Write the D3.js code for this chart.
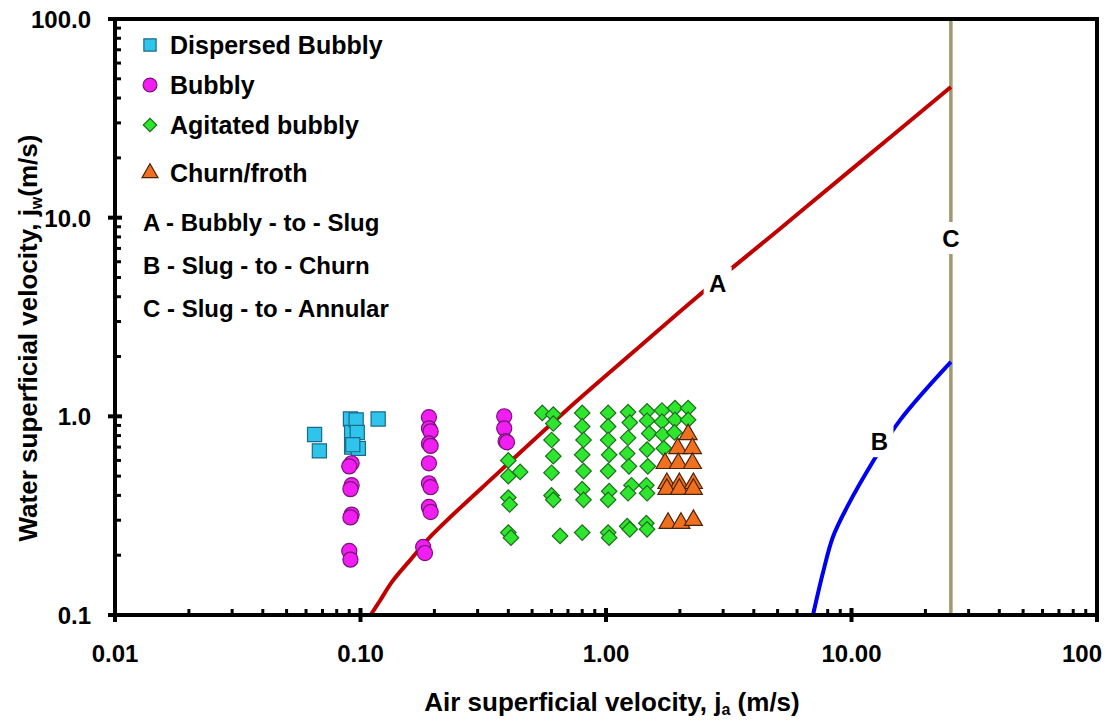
<!DOCTYPE html>
<html>
<head>
<meta charset="utf-8">
<script src="https://cdn.jsdelivr.net/npm/d3@7"></script>
<style>
  html, body { margin: 0; padding: 0; background: #fff; }
  svg { display: block; font-family: "Liberation Sans", Arial, sans-serif; font-weight: bold; }
</style>
</head>
<body>
<svg id="chart" width="1106" height="723"></svg>
<script>
// Flow-regime observations, [air velocity ja, water velocity jw] in m/s
const dispersedBubbly = [
  [0.065, 0.81], [0.068, 0.67], [0.091, 0.97], [0.092, 0.83], [0.092, 0.70],
  [0.096, 0.96], [0.097, 0.83], [0.098, 0.69], [0.118, 0.97], [0.093, 0.72]
];
const bubbly = [
  [0.092, 0.58], [0.090, 0.56], [0.092, 0.45], [0.091, 0.43], [0.092, 0.32],
  [0.091, 0.31], [0.090, 0.21], [0.091, 0.19],
  [0.19, 0.99], [0.19, 0.87], [0.193, 0.84], [0.19, 0.73], [0.193, 0.71],
  [0.19, 0.58], [0.19, 0.46], [0.193, 0.44], [0.19, 0.35], [0.193, 0.33],
  [0.18, 0.22], [0.183, 0.205],
  [0.385, 1.0], [0.385, 0.87], [0.39, 0.75], [0.395, 0.74]
];
const agitatedBubbly = [
  [0.40, 0.60], [0.447, 0.525], [0.40, 0.50], [0.40, 0.39], [0.405, 0.36], [0.40, 0.26], [0.41, 0.245],
  [0.55, 1.04], [0.61, 1.02],
  [0.61, 0.92], [0.60, 0.76], [0.61, 0.63], [0.60, 0.52], [0.60, 0.40], [0.61, 0.38], [0.65, 0.25],
  [0.80, 1.04], [0.80, 0.89], [0.81, 0.76], [0.80, 0.64], [0.81, 0.53], [0.80, 0.43], [0.81, 0.38], [0.80, 0.26],
  [1.02, 1.04], [1.02, 0.89], [1.02, 0.76], [1.03, 0.64], [1.02, 0.53], [1.03, 0.42], [1.02, 0.38], [1.02, 0.26], [1.03, 0.245],
  [1.23, 1.05], [1.25, 0.93], [1.23, 0.78], [1.22, 0.65], [1.24, 0.56], [1.27, 0.45], [1.23, 0.41], [1.22, 0.28], [1.25, 0.27],
  [1.47, 1.06], [1.47, 0.95], [1.50, 0.82], [1.47, 0.68], [1.48, 0.56], [1.46, 0.45], [1.47, 0.41], [1.46, 0.29], [1.47, 0.27],
  [1.69, 1.07], [1.69, 0.94], [1.70, 0.81], [1.72, 0.69],
  [1.91, 1.10], [1.91, 0.96], [1.90, 0.83],
  [2.16, 1.10], [2.16, 0.96]
];
const churnFroth = [
  [2.16, 0.81], [1.96, 0.69], [2.25, 0.69], [1.74, 0.58], [1.97, 0.58], [2.25, 0.58],
  [1.77, 0.46], [1.99, 0.46], [2.27, 0.46], [1.77, 0.43], [1.99, 0.43], [2.27, 0.43],
  [1.79, 0.29], [2.02, 0.29], [2.27, 0.30]
];

// Transition boundaries
const bubblyToSlug = [
  [0.11, 0.1], [0.12, 0.118], [0.135, 0.148], [0.16, 0.19], [0.197, 0.255], [0.37, 0.53],
  [0.694, 1.08], [1.288, 2.1], [2.35, 3.99], [5, 8.6], [10, 17.5], [25.4, 45.5]
];
const slugToChurn = [
  [6.97, 0.1], [7.65, 0.163], [8.4, 0.247], [9.6, 0.35], [12.2, 0.589], [15.8, 0.96], [25.4, 1.88]
];
const slugToAnnular = [[25.4, 0.1], [25.4, 100]];

// Curve labels placed on the boundaries: [text, ja, jw]
const curveLabels = [["A", 2.85, 4.7], ["B", 13.0, 0.75], ["C", 25.4, 7.9]];

const xTickValues = [0.01, 0.1, 1, 10, 100];
const xTickLabels = ["0.01", "0.10", "1.00", "10.00", "100"];
const yTickValues = [0.1, 1, 10, 100];
const yTickLabels = ["0.1", "1.0", "10.0", "100.0"];

const legendSeries = ["Dispersed Bubbly", "Bubbly", "Agitated bubbly", "Churn/froth"];
const legendCurves = ["A - Bubbly - to - Slug", "B - Slug - to - Churn", "C - Slug - to - Annular"];

// ---- drawing ----
const svg = d3.select("#chart");
const plot = { left: 115, right: 1097, top: 19, bottom: 615 };

const x = d3.scaleLog().domain([0.01, 100]).range([plot.left, plot.right]);
const y = d3.scaleLog().domain([0.1, 100]).range([plot.bottom, plot.top]);

const styles = {
  square:   { fill: "#2EC4EC", stroke: "#1B6A86" },
  circle:   { fill: "#F01EF0", stroke: "#7A127A" },
  diamond:  { fill: "#2EE62E", stroke: "#1C6E1C" },
  triangle: { fill: "#F07020", stroke: "#4A2308" }
};

svg.append("defs").append("clipPath").attr("id", "plotClip")
  .append("rect")
  .attr("x", plot.left).attr("y", plot.top)
  .attr("width", plot.right - plot.left).attr("height", plot.bottom - plot.top);

// minor ticks (inside)
const minorX = [];
for (let d = 0.01; d < 100; d *= 10) for (let k = 2; k <= 9; k++) minorX.push(d * k);
const minorY = [];
for (let d = 0.1; d < 100; d *= 10) for (let k = 2; k <= 9; k++) minorY.push(d * k);

const axisG = svg.append("g");
axisG.selectAll("line.mx").data(minorX).join("line")
  .attr("x1", d => x(d)).attr("x2", d => x(d))
  .attr("y1", plot.bottom).attr("y2", plot.bottom - 6)
  .attr("stroke", "#000").attr("stroke-width", 3);
axisG.selectAll("line.my").data(minorY).join("line")
  .attr("x1", plot.left).attr("x2", plot.left + 6)
  .attr("y1", d => y(d)).attr("y2", d => y(d))
  .attr("stroke", "#000").attr("stroke-width", 3);

// major ticks crossing the axes
axisG.selectAll("line.Mx").data(xTickValues).join("line")
  .attr("x1", d => x(d)).attr("x2", d => x(d))
  .attr("y1", plot.bottom - 7).attr("y2", plot.bottom + 7)
  .attr("stroke", "#000").attr("stroke-width", 4);
axisG.selectAll("line.My").data(yTickValues).join("line")
  .attr("x1", plot.left - 7).attr("x2", plot.left + 7)
  .attr("y1", d => y(d)).attr("y2", d => y(d))
  .attr("stroke", "#000").attr("stroke-width", 4);

// tick labels
axisG.selectAll("text.xl").data(xTickValues).join("text")
  .attr("x", (d, i) => i === xTickValues.length - 1 ? 1102 : x(d)).attr("y", 662)
  .attr("text-anchor", (d, i) => i === xTickValues.length - 1 ? "end" : "middle")
  .attr("font-size", 24)
  .text((d, i) => xTickLabels[i]);
axisG.selectAll("text.yl").data(yTickValues).join("text")
  .attr("x", 91).attr("y", d => y(d) + 9)
  .attr("text-anchor", "end").attr("font-size", 24)
  .text((d, i) => yTickLabels[i]);

// boundary curves
const curves = svg.append("g").attr("clip-path", "url(#plotClip)");
const straight = d3.line().x(d => x(d[0])).y(d => y(d[1]));
const smooth = d3.line().x(d => x(d[0])).y(d => y(d[1])).curve(d3.curveCatmullRom.alpha(0.5));

// markers
const marks = svg.append("g");
const sym = (type, size) => d3.symbol().type(type).size(size)();
function drawSeries(data, type, size, style, rot) {
  marks.selectAll(null).data(data).join("path")
    .attr("d", sym(type, size))
    .attr("transform", d => `translate(${x(d[0])},${y(d[1])})` + (rot ? ` rotate(${rot})` : ""))
    .attr("fill", style.fill).attr("stroke", style.stroke).attr("stroke-width", 1.2);
}
drawSeries(dispersedBubbly, d3.symbolSquare, 200, styles.square);
drawSeries(bubbly, d3.symbolCircle, 180, styles.circle);
drawSeries(agitatedBubbly, d3.symbolSquare, 120, styles.diamond, 45);
drawSeries(churnFroth, d3.symbolTriangle, 140, styles.triangle);

curves.append("path").datum(slugToAnnular).attr("d", straight)
  .attr("fill", "none").attr("stroke", "#9E9B6E").attr("stroke-width", 3.5);
curves.append("path").datum(bubblyToSlug).attr("d", smooth)
  .attr("fill", "none").attr("stroke", "#C00000").attr("stroke-width", 4);
curves.append("path").datum(slugToChurn).attr("d", smooth)
  .attr("fill", "none").attr("stroke", "#0000F0").attr("stroke-width", 4);

// curve labels on white backing
const lab = svg.append("g");
curveLabels.forEach(([t, lx, ly]) => {
  const cx = x(lx), cy = y(ly);
  lab.append("rect").attr("x", cx - 14).attr("y", cy - 16).attr("width", 28).attr("height", 32).attr("fill", "#fff");
  lab.append("text").attr("x", cx).attr("y", cy + 9).attr("text-anchor", "middle")
    .attr("font-size", 24).text(t);
});

// plot frame
svg.append("rect")
  .attr("x", plot.left).attr("y", plot.top)
  .attr("width", plot.right - plot.left).attr("height", plot.bottom - plot.top)
  .attr("fill", "none").attr("stroke", "#000").attr("stroke-width", 4);

// legend
const leg = svg.append("g");
const legRowsY = [45, 85, 125, 173];
const legTypes = [
  [d3.symbolSquare, 150, styles.square, 0],
  [d3.symbolCircle, 150, styles.circle, 0],
  [d3.symbolSquare, 90, styles.diamond, 45],
  [d3.symbolTriangle, 110, styles.triangle, 0]
];
legendSeries.forEach((name, i) => {
  const [type, size, st, rot] = legTypes[i];
  leg.append("path").attr("d", sym(type, size))
    .attr("transform", `translate(150,${legRowsY[i]}) rotate(${rot})`)
    .attr("fill", st.fill).attr("stroke", st.stroke).attr("stroke-width", 1.2);
  leg.append("text").attr("x", 170).attr("y", legRowsY[i] + 9).attr("font-size", 25).text(name);
});
const curveRowsY = [222, 265, 308];
legendCurves.forEach((t, i) => {
  leg.append("text").attr("x", 143).attr("y", curveRowsY[i] + 9).attr("font-size", 24).text(t);
});

// axis titles
const xt = svg.append("text").attr("x", 612).attr("y", 711).attr("text-anchor", "middle").attr("font-size", 26);
xt.append("tspan").text("Air superficial velocity, j");
xt.append("tspan").attr("font-size", 16).attr("dy", 4).text("a");
xt.append("tspan").attr("dy", -4).text(" (m/s)");

const yt = svg.append("text").attr("transform", "translate(37,338) rotate(-90)")
  .attr("text-anchor", "middle").attr("font-size", 26);
yt.append("tspan").text("Water superficial velocity, j");
yt.append("tspan").attr("font-size", 16).attr("dy", 5).text("w");
yt.append("tspan").attr("dy", -5).text("(m/s)");
</script>
</body>
</html>
